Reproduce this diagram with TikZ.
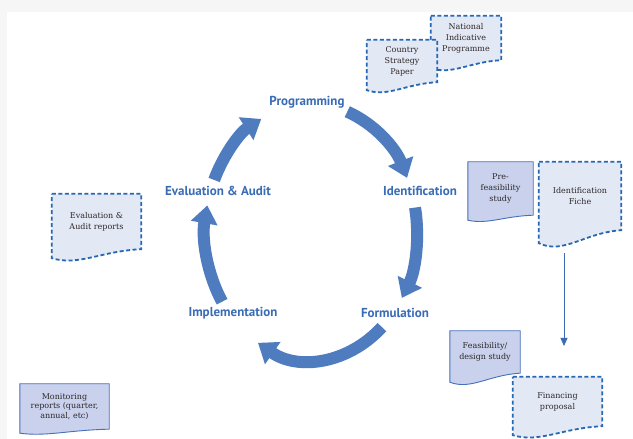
\documentclass[tikz,border=0pt]{standalone}
\usepackage{fontspec}
\setmainfont{DejaVu Serif}
\newfontfamily\cyclefont{PT Sans}
\usetikzlibrary{arrows.meta,calc,backgrounds}
\definecolor{cycblue}{RGB}{79,124,190}
\definecolor{lblblue}{RGB}{58,108,182}
\definecolor{docfill}{RGB}{201,209,237}
\definecolor{docline}{RGB}{70,112,185}
\definecolor{planfill}{RGB}{227,232,245}
\definecolor{planline}{RGB}{38,104,180}
\definecolor{doctext}{RGB}{45,40,40}
% outline of a document with a wavy lower edge: style, node, drop of left corner
\newcommand{\docoutline}[3]{%
  \path[#1] (#2.north west) -- (#2.north east) -- (#2.south east)
    .. controls ($(#2.south east)!0.45!(#2.south west)+(0,-0.2*#3)$)
    and ($(#2.south east)!0.7!(#2.south west)+(0,-1.9*#3)$)
    .. ($(#2.south west)+(0,-#3)$) -- cycle;}

\begin{document}
\begin{tikzpicture}[x=1pt, y=1pt,
  cycarr/.style={line width=12pt, cycblue, -{Triangle[length=18pt, width=26pt]}},
  cyclabel/.style={font=\cyclefont\bfseries\fontsize{13}{15}\selectfont, text=lblblue},
  docnode/.style={font=\fontsize{8}{11}\selectfont, align=center,
    inner sep=0pt, text=doctext},
  solid doc/.style={draw=docline, line width=0.9pt, fill=docfill},
  plan doc/.style={draw=planline, line width=1.8pt, dash pattern=on 4pt off 2.5pt,
    fill=planfill},
  finarr/.style={-{Triangle[length=8pt, width=7pt]}, line width=0.8pt, lblblue}
]
\useasboundingbox (0,0) rectangle (633,439);

% Page
\begin{scope}[on background layer]
  \fill[gray!7] (0,0) rectangle (633,439);
  \fill[white] (7,0) rectangle (633,427);
\end{scope}

% Cycle
\coordinate (ctr) at (311,207);
\draw[cycarr] (ctr) ++(70:106pt and 128pt)
  arc[start angle=70, end angle=25, x radius=106pt, y radius=128pt];
\draw[cycarr] (ctr) ++(11:106pt and 128pt)
  arc[start angle=11, end angle=-31, x radius=106pt, y radius=128pt];
\draw[cycarr] (ctr) ++(-48:106pt and 128pt)
  arc[start angle=-48, end angle=-120, x radius=106pt, y radius=128pt];
\draw[cycarr] (ctr) ++(213:106pt and 128pt)
  arc[start angle=213, end angle=168, x radius=106pt, y radius=128pt];
\draw[cycarr] (ctr) ++(156:106pt and 128pt)
  arc[start angle=156, end angle=118, x radius=106pt, y radius=128pt];

\node[cyclabel] (prog) at (307,337) {Programming};
\node[cyclabel] (ident) at (420,248) {Identification};
\node[cyclabel] (form) at (395,126) {Formulation};
\node[cyclabel] (impl) at (233,126) {Implementation};
\node[cyclabel] (eval) at (218,248) {Evaluation \& Audit};

% Programming documents
\node[docnode, minimum width=70pt, minimum height=44pt] (nip) at (466,401)
  {National\\Indicative\\Programme};
\node[docnode, minimum width=70pt, minimum height=42pt] (csp) at (402,378)
  {Country\\Strategy\\Paper};

% Identification documents
\node[docnode, minimum width=65pt, minimum height=53pt] (pfs) at (500.5,250.5)
  {Pre-\\feasibility\\study};
\node[docnode, minimum width=82pt, minimum height=68pt] (idf) at (580,243)
  {Identification\\Fiche};

% Formulation documents
\node[docnode, minimum width=70pt, minimum height=42pt] (fds) at (485,87)
  {Feasibility/\\design study};
\node[docnode, minimum width=89pt, minimum height=49pt] (fp) at (557.5,37.5)
  {Financing\\proposal};
\coordinate (fpin) at (564,93);
\draw[finarr] ([xshift=-16pt, yshift=-23pt]idf.south) -- (fpin);

% Implementation and evaluation documents
\node[docnode, minimum width=89pt, minimum height=45pt,
  font=\fontsize{8}{9.5}\selectfont] (mon) at (64.5,32.5)
  {Monitoring\\reports (quarter,\\annual, etc)};
\node[docnode, minimum width=89pt, minimum height=55pt] (ear) at (96.5,217.5)
  {Evaluation \&\\Audit reports};

% Document outlines behind the texts
\begin{scope}[on background layer]
  \docoutline{plan doc}{nip}{8}
  \docoutline{plan doc}{csp}{8}
  \docoutline{solid doc}{pfs}{5}
  \docoutline{plan doc}{idf}{13}
  \docoutline{solid doc}{fds}{9}
  \docoutline{plan doc}{fp}{9}
  \docoutline{solid doc}{mon}{4}
  \docoutline{plan doc}{ear}{9}
\end{scope}

\end{tikzpicture}
\end{document}
